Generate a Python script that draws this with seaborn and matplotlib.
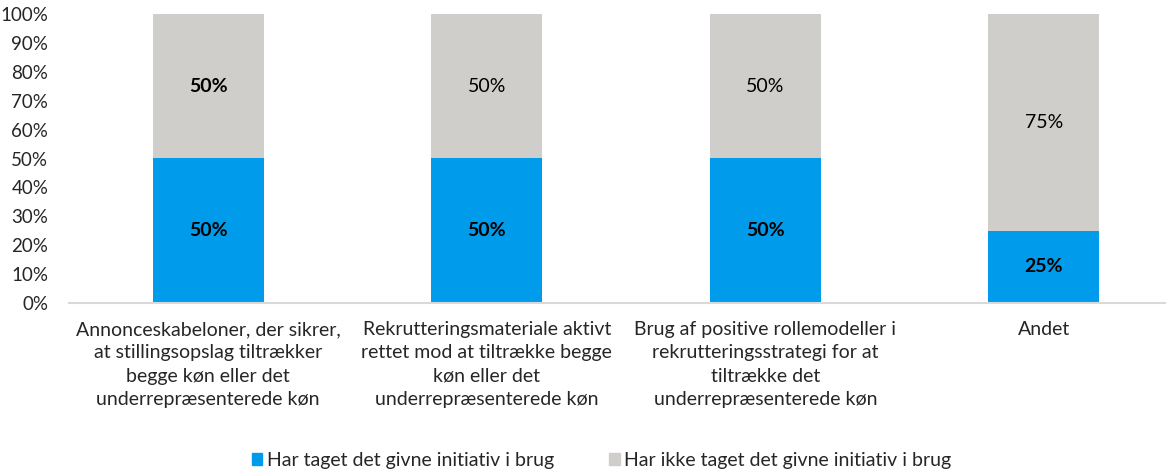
import matplotlib
matplotlib.use("Agg")
import matplotlib.pyplot as plt
import seaborn as sns
import pandas as pd
from matplotlib.patches import Patch

# data
categories = [
    "Annonceskabeloner, der sikrer,\nat stillingsopslag tiltrækker\nbegge køn eller det\nunderrepræsenterede køn",
    "Rekrutteringsmateriale aktivt\nrettet mod at tiltrække begge\nkøn eller det\nunderrepræsenterede køn",
    "Brug af positive rollemodeller i\nrekrutteringsstrategi for at\ntiltrække det\nunderrepræsenterede køn",
    "Andet",
]
taget = [50, 50, 50, 25]
ikke_taget = [50, 50, 50, 75]
top_bold = [True, False, False, False]
series_names = ["Har taget det givne initiativ i brug",
                "Har ikke taget det givne initiativ i brug"]

blue = "#009BEA"
grey = "#D0CECA"

sns.set_style("white")
plt.rcParams["font.family"] = ["Lato", "DejaVu Sans"]

df = pd.DataFrame({"kat": categories, "taget": taget, "ikke": ikke_taget})
df["total"] = df["taget"] + df["ikke"]

fig = plt.figure(figsize=(11.66, 4.70), dpi=100)
ax = fig.add_axes([69 / 1166, 167 / 470, 1114 / 1166, 289 / 470])

sns.barplot(data=df, x="kat", y="total", color=grey, width=0.4,
            saturation=1, ax=ax, linewidth=0)
sns.barplot(data=df, x="kat", y="taget", color=blue, width=0.4,
            saturation=1, ax=ax, linewidth=0)

for i, row in df.iterrows():
    ax.text(i, row["taget"] / 2, f"{row['taget']:.0f}%", ha="center", va="center",
            fontsize=14, fontweight="bold", color="black")
    ax.text(i, row["taget"] + row["ikke"] / 2, f"{row['ikke']:.0f}%", ha="center",
            va="center", fontsize=14, color="black",
            fontweight="bold" if top_bold[i] else "normal")

ax.set_ylim(0, 100)
ax.set_xlim(-0.5, 3.5)
ax.set_yticks(range(0, 101, 10))
ax.set_yticklabels([f"{v}%" for v in range(0, 101, 10)], fontsize=13.5, color="#262626")
ax.tick_params(axis="x", labelsize=14, colors="#262626", length=0, pad=13)
ax.tick_params(axis="y", length=0, pad=15)
for lbl in ax.get_xticklabels():
    lbl.set_linespacing(1.45)
ax.set_xlabel("")
ax.set_ylabel("")
for side in ["top", "right", "left"]:
    ax.spines[side].set_visible(False)
ax.spines["bottom"].set_color("#D9D9D9")
ax.spines["bottom"].set_linewidth(1.5)

handles = [Patch(color=blue, label=series_names[0]),
           Patch(color=grey, label=series_names[1])]
fig.legend(handles=handles, loc="lower center", bbox_to_anchor=(0.516, -0.035),
           ncol=2, frameon=False, fontsize=14, handlelength=0.55, handleheight=0.55,
           handletextpad=0.25, columnspacing=2.8)

plt.savefig("out.png", dpi=100)
